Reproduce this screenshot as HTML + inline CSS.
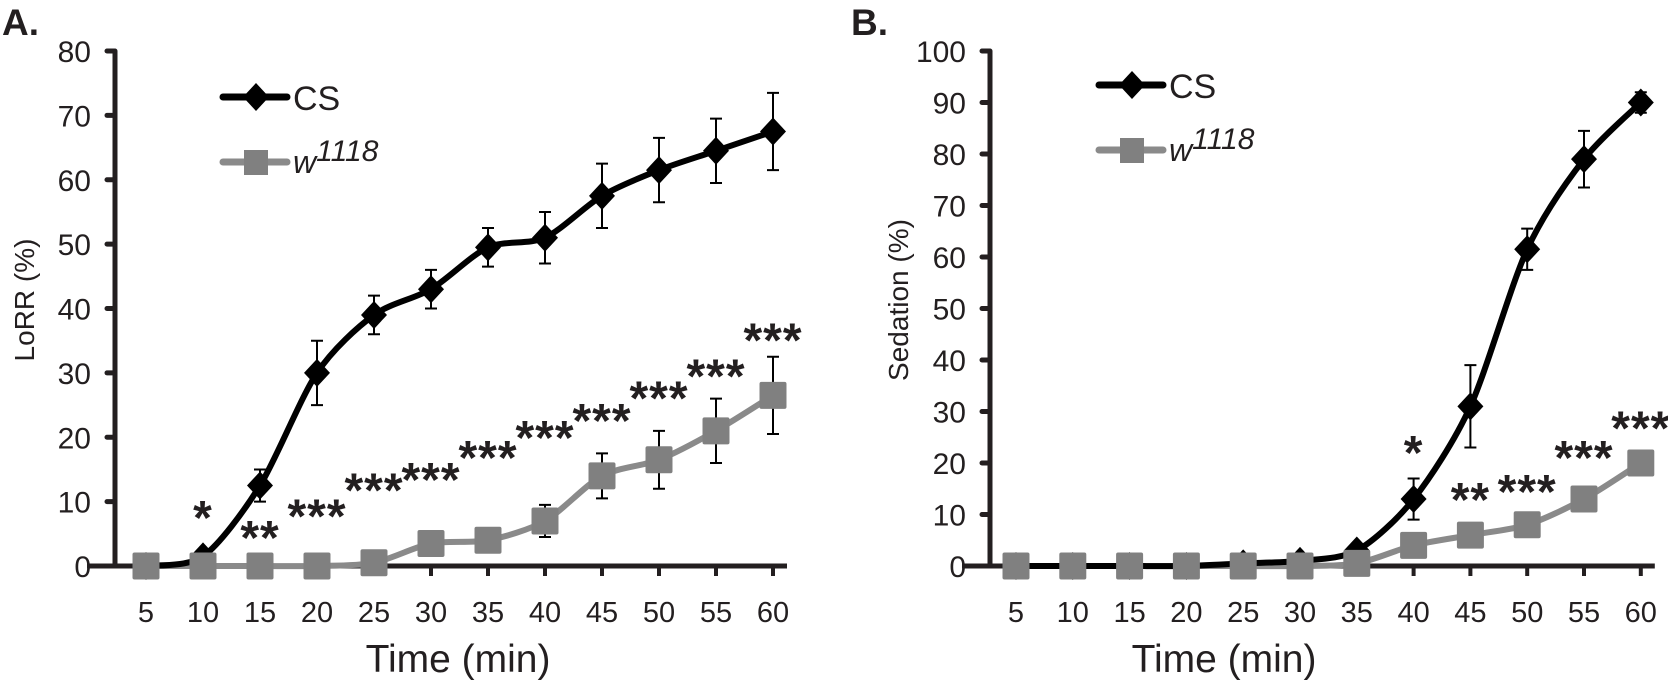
<!DOCTYPE html>
<html><head><meta charset="utf-8"><style>
body{margin:0;background:#fff;}
svg{display:block;font-family:"Liberation Sans",Arial,sans-serif;}
</style></head><body>
<svg id="chart" width="1668" height="687" viewBox="0 0 1668 687"></svg>
<script>
const times=[5,10,15,20,25,30,35,40,45,50,55,60];
const aCS=[0,1.5,12.5,30,39,43,49.5,51,57.5,61.5,64.5,67.5];
const aCSErr=[0,0,2.5,5,3,3,3,4,5,5,5,6];
const aW=[0,0,0,0,0.5,3.5,4,7,14,16.5,21,26.5];
const aWErr=[0,0,0,0,0,0,0,2.5,3.5,4.5,5,6];
const aStars=["","*","**","***","***","***","***","***","***","***","***","***"];
const aStarY=[0,8.7,5.6,8.9,13,14.6,18,21.1,23.8,27.3,30.7,36.3];
const aTicks=[0,10,20,30,40,50,60,70,80];
const bCS=[0,0,0,0,0.5,1,3,13,31,61.5,79,90];
const bCSErr=[0,0,0,0,0,0,1,4,8,4,5.5,2];
const bW=[0,0,0,0,0,0,0.5,4,6,8,13,20];
const bWErr=[0,0,0,0,0,0,0,0,0,0,0,0];
const bStars=["","","","","","","","*","**","***","***","***"];
const bStarY=[0,0,0,0,0,0,0,23.5,14.4,15.9,22.5,28.3];
const bTicks=[0,10,20,30,40,50,60,70,80,90,100];

const NS="http://www.w3.org/2000/svg";
const svg=document.getElementById('chart');
function mk(tag,attrs,parent,txt){const e=document.createElementNS(NS,tag);for(const k in attrs)e.setAttribute(k,attrs[k]);if(txt!==undefined)e.textContent=txt;(parent||svg).appendChild(e);return e;}

function spline(pts){let d=`M${pts[0][0]},${pts[0][1]}`;for(let i=0;i<pts.length-1;i++){const p0=pts[Math.max(0,i-1)],p1=pts[i],p2=pts[i+1],p3=pts[Math.min(pts.length-1,i+2)];const t=0.14;d+=` C${p1[0]+(p2[0]-p0[0])*t},${p1[1]+(p2[1]-p0[1])*t} ${p2[0]-(p3[0]-p1[0])*t},${p2[1]-(p3[1]-p1[1])*t} ${p2[0]},${p2[1]}`;}return d;}

function panel(cfg){
  const g=mk('g',{});
  
  
  const xs=t=>cfg.x0+(t-5)/5*cfg.step;
  const ys=v=>cfg.y0-v*cfg.ppu;
  const t1=mk('text',{x:cfg.lx,y:35,'font-size':37,'font-weight':'bold',fill:'#231f20'},g,cfg.label);
  
  const ax=mk('line',{x1:cfg.ax,y1:ys(cfg.ticks[cfg.ticks.length-1]),x2:cfg.ax,y2:cfg.y0,stroke:'#231f20','stroke-width':5},g);
  
  const xa=mk('line',{x1:cfg.ax-28,y1:cfg.y0,x2:xs(60)+14,y2:cfg.y0,stroke:'#231f20','stroke-width':5},g);
  
  cfg.ticks.forEach(v=>{
    mk('line',{x1:cfg.ax-8,y1:ys(v),x2:cfg.ax,y2:ys(v),stroke:'#231f20','stroke-width':5,'stroke-linecap':'round'},g);
    const t=mk('text',{x:cfg.ax-24,y:ys(v)+11,'font-size':30,'text-anchor':'end',fill:'#231f20'},g,String(v));
    
  });
  times.forEach(tm=>{
    mk('line',{x1:xs(tm),y1:cfg.y0,x2:xs(tm),y2:cfg.y0+10,stroke:'#231f20','stroke-width':4},g);
    const t=mk('text',{x:xs(tm),y:622,'font-size':29,'text-anchor':'middle',fill:'#231f20'},g,String(tm));
    
  });
  const xt=mk('text',{x:cfg.xtc,y:672,'font-size':39,'text-anchor':'middle',fill:'#231f20'},g,'Time (min)');
  
  const yt=mk('text',{x:0,y:0,'font-size':28,'text-anchor':'middle',fill:'#231f20',transform:`translate(${cfg.ytx},${cfg.yty}) rotate(-90)`},g,cfg.ytitle);
  
  const pw=mk('path',{d:spline(cfg.w.map((v,i)=>[xs(times[i]),ys(v)])),fill:'none',stroke:'#8a8a8a','stroke-width':6},g);
  
  const pc=mk('path',{d:spline(cfg.cs.map((v,i)=>[xs(times[i]),ys(v)])),fill:'none',stroke:'#000','stroke-width':6},g);
  
  cfg.cs.forEach((v,i)=>{const e=cfg.csErr[i];if(e>0){const x=xs(times[i]);
    const eb=mk('path',{d:`M${x},${ys(v-e)}V${ys(v+e)}M${x-6},${ys(v-e)}H${x+6}M${x-6},${ys(v+e)}H${x+6}`,stroke:'#000','stroke-width':2,fill:'none'},g);
    }});
  cfg.w.forEach((v,i)=>{const e=cfg.wErr[i];if(e>0){const x=xs(times[i]);
    const eb=mk('path',{d:`M${x},${ys(v-e)}V${ys(v+e)}M${x-6},${ys(v-e)}H${x+6}M${x-6},${ys(v+e)}H${x+6}`,stroke:'#000','stroke-width':2,fill:'none'},g);
    }});
  cfg.cs.forEach((v,i)=>{const x=xs(times[i]),y=ys(v);
    const m=mk('path',{d:`M${x},${y-14}L${x+13},${y}L${x},${y+14}L${x-13},${y}Z`,fill:'#000'},g);
    });
  cfg.w.forEach((v,i)=>{const x=xs(times[i]),y=ys(v);
    const m=mk('rect',{x:x-13.5,y:y-13.5,width:27,height:27,rx:2,fill:'#808080'},g);
    });
  cfg.stars.forEach((s,i)=>{if(!s)return;
    const t=mk('text',{x:xs(times[i]),y:ys(cfg.starY[i])+24,'font-size':48,'font-weight':'bold','text-anchor':'middle','letter-spacing':'1',fill:'#231f20'},g,s);
    });
  const L=cfg.leg;
  const lg=mk('g',{},g);
  mk('line',{x1:L.x,y1:L.y,x2:L.x+64,y2:L.y,stroke:'#000','stroke-width':7,'stroke-linecap':'round'},lg);
  mk('path',{d:`M${L.x+33},${L.y-14}L${L.x+46},${L.y}L${L.x+33},${L.y+14}L${L.x+20},${L.y}Z`,fill:'#000'},lg);
  const c1=mk('text',{x:L.x+70,y:L.y+13,'font-size':34,fill:'#231f20'},lg,'CS');
  
  mk('line',{x1:L.x,y1:L.y+65,x2:L.x+64,y2:L.y+65,stroke:'#8a8a8a','stroke-width':7,'stroke-linecap':'round'},lg);
  mk('rect',{x:L.x+21,y:L.y+53,width:24,height:25,fill:'#808080'},lg);
  const c2=mk('text',{x:L.x+70,y:L.y+76,'font-size':32,'font-style':'italic',fill:'#231f20'},lg);
  
  mk('tspan',{},c2,'w');mk('tspan',{dy:-12,'font-size':30},c2,'1118');
}
panel({name:'panel-a',label:'A.',lx:2,ax:115,x0:146,step:57,y0:566,ppu:515/80,ticks:aTicks,cs:aCS,csErr:aCSErr,w:aW,wErr:aWErr,stars:aStars,starY:aStarY,xtc:458,ytx:34,yty:300,ytitle:'LoRR (%)',leg:{x:223,y:97}});
panel({name:'panel-b',label:'B.',lx:851,ax:990,x0:1016,step:56.8,y0:566,ppu:515/100,ticks:bTicks,cs:bCS,csErr:bCSErr,w:bW,wErr:bWErr,stars:bStars,starY:bStarY,xtc:1224,ytx:908,yty:300,ytitle:'Sedation (%)',leg:{x:1099,y:85}});
</script>
</body></html>
